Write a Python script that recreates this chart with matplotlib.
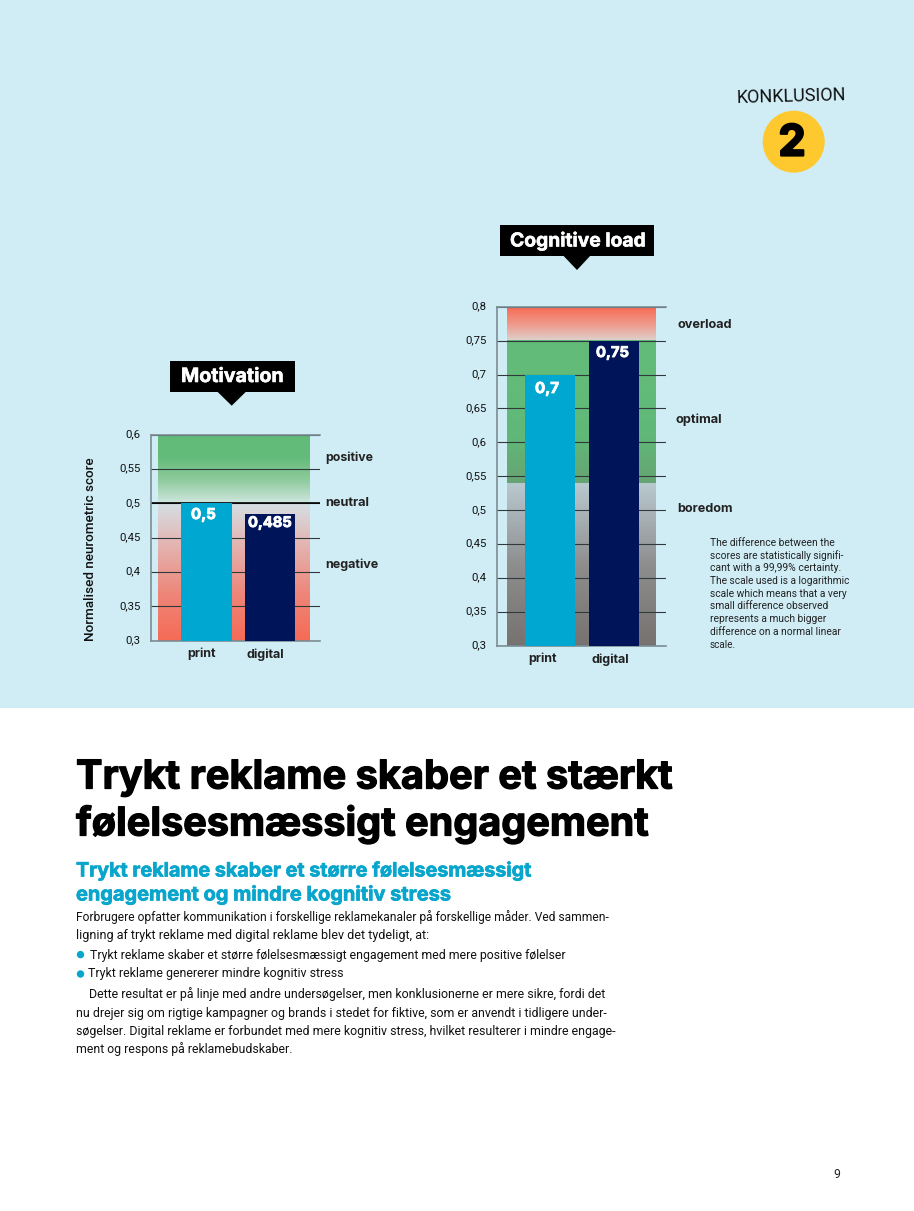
import matplotlib
matplotlib.use("Agg")
import matplotlib.pyplot as plt
import matplotlib.patheffects as pe
import numpy as np
from matplotlib.colors import LinearSegmentedColormap
from matplotlib.patches import Rectangle, Polygon, Circle
from matplotlib.transforms import ScaledTranslation

plt.rcParams['font.family'] = ['Roboto', 'DejaVu Sans']

W, H = 914, 1211

categories = ["print", "digital"]

motivation_values = [0.5, 0.485]
motivation_labels = ["0,5", "0,485"]
motivation_ticks = [0.3, 0.35, 0.4, 0.45, 0.5, 0.55, 0.6]
motivation_ticklabels = ["0,3", "0,35", "0,4", "0,45", "0,5", "0,55", "0,6"]

cognitive_values = [0.7, 0.75]
cognitive_labels = ["0,7", "0,75"]
cognitive_ticks = [0.3, 0.35, 0.4, 0.45, 0.5, 0.55, 0.6, 0.65, 0.7, 0.75, 0.8]
cognitive_ticklabels = ["0,3", "0,35", "0,4", "0,45", "0,5", "0,55", "0,6", "0,65", "0,7", "0,75", "0,8"]

note_lines = ["The difference between the", "scores are statistically signifi-",
              "cant with a 99,99% certainty.", "The scale used is a logarithmic",
              "scale which means that a very", "small difference observed",
              "represents a much bigger", "difference on a normal linear", "scale."]

BG = "#D0EDF6"
PRINT = "#00A8D1"
DIGITAL = "#001559"
GREY = "#7C8D94"
LINE = "#30393C"
TEAL = "#08A5CC"


def fit(x, y, t, right, size, **kw):
    # text from x to right: the size is scaled until the width fits
    txt = over.text(x, y, t, fontsize=size, va="center", **kw)
    w = txt.get_window_extent(fig.canvas.get_renderer()).width
    txt.set_fontsize(size * (right - x) / w)
    return txt


def make_axes(left, right, top, bottom, ylim, xlim, ticks, ticklabels):
    ax = fig.add_axes([left / W, 1 - bottom / H, (right - left) / W, (bottom - top) / H], zorder=2)
    ax.set_xlim(*xlim)
    ax.set_ylim(*ylim)
    ax.patch.set_alpha(0)
    for s in ["top", "right", "bottom"]:
        ax.spines[s].set_visible(False)
    ax.spines["left"].set_color(GREY)
    ax.spines["left"].set_linewidth(1.2)
    ax.set_xticks([])
    ax.set_yticks(ticks)
    ax.set_yticklabels(ticklabels, fontsize=8.2, color="#111111")
    ax.tick_params(axis="y", length=0, pad=7.5)
    # labels sit a bit above their lines in the original
    up = ScaledTranslation(0, 1.5 / 100, fig.dpi_scale_trans)
    for lab in ax.get_yticklabels():
        lab.set_transform(lab.get_transform() + up)
    ax.set_axisbelow(True)
    ax.grid(axis="y", color=LINE, lw=0.8)
    return ax


def band(ax, x0, x1, y0, y1, colors):
    # y0 is the bottom of the band, colors go bottom to top
    cmap = LinearSegmentedColormap.from_list("b", colors)
    grad = np.linspace(0, 1, 256).reshape(-1, 1)
    ax.imshow(grad, cmap=cmap, origin="lower", extent=[x0, x1, y0, y1],
              aspect="auto", zorder=0, interpolation="bilinear")


fig = plt.figure(figsize=(W / 100, H / 100), dpi=100, facecolor="white")

# background layer, and a layer on top for the page text, both in pixels
page = fig.add_axes([0, 0, 1, 1], zorder=0)
over = fig.add_axes([0, 0, 1, 1], zorder=5)
for a in [page, over]:
    a.set_xlim(0, W)
    a.set_ylim(H, 0)
    a.axis("off")
page.add_patch(Rectangle((0, 0), W, 707.5, color=BG, lw=0))

# Motivation
ax1 = make_axes(151, 320, 434.7, 640.7, (0.3, 0.6), (-0.874, 1.787),
                motivation_ticks, motivation_ticklabels)
band(ax1, -0.764, 1.614, 0.5, 0.6, ["#CFE6DF", "#8FCB9D", "#62BB78", "#62BB78"])
band(ax1, -0.764, 1.614, 0.3, 0.5, ["#F66B55", "#EE8578", "#E5B0AC", "#D5DFE5"])
ax1.axhline(0.5, color="black", lw=1.2, zorder=0.6)
for v in [0.3, 0.6]:
    ax1.axhline(v, color=GREY, lw=1.2, zorder=0.6, clip_on=False)
ax1.bar(np.arange(2), motivation_values, width=0.79, color=[PRINT, DIGITAL], zorder=1)

# Cognitive load
ax2 = make_axes(496.7, 666, 306.7, 646, (0.3, 0.8), (-0.833, 1.8125),
                cognitive_ticks, cognitive_ticklabels)
band(ax2, -0.672, 1.652, 0.75, 0.8, ["#DDD3CF", "#F0998A", "#F66B55"])
band(ax2, -0.672, 1.652, 0.54, 0.75, ["#67A473", "#60B878", "#62BB78", "#62BB78"])
band(ax2, -0.672, 1.652, 0.3, 0.54, ["#767270", "#8E8E8E", "#B9C9D0"])
for v in [0.3, 0.8]:
    ax2.axhline(v, color=GREY, lw=1.2, zorder=0.6, clip_on=False)
ax2.bar(np.arange(2), cognitive_values, width=0.786, color=[PRINT, DIGITAL], zorder=1)

# value labels on the bars
heavy = [pe.withStroke(linewidth=0.6, foreground="white")]
for x, right, y, t in zip([191, 248], [216, 292], [515, 523], motivation_labels):
    fit(x, y, t, right, 11, color="white", family="Inter", fontweight="bold", path_effects=heavy)
for x, right, y, t in zip([535, 596], [559, 629], [389, 353], cognitive_labels):
    fit(x, y, t, right, 11, color="white", family="Inter", fontweight="bold", path_effects=heavy)

# callouts
over.add_patch(Rectangle((170, 361), 125, 30.5, color="black", lw=0))
over.add_patch(Polygon([(216.7, 391), (246.7, 391), (231.7, 405.7)], color="black", lw=0))
fit(181, 377, "Motivation", 284, 14, color="white", family="Inter", fontweight="bold",
    path_effects=[pe.withStroke(linewidth=0.4, foreground="white")])
over.add_patch(Rectangle((500, 225), 154, 30.5, color="black", lw=0))
over.add_patch(Polygon([(562.7, 255), (591, 255), (577, 270)], color="black", lw=0))
fit(510, 241, "Cognitive load", 646, 14, color="white", family="Inter", fontweight="bold",
    path_effects=[pe.withStroke(linewidth=0.4, foreground="white")])

# conclusion badge
over.text(791.5, 97, "KONKLUSION", color="#111111", fontsize=13, rotation=1.5,
          ha="center", va="center", rotation_mode="anchor")
over.add_patch(Circle((793.7, 141.7), 31, color="#FDC92F", lw=0))
over.text(792, 144, "2", color="black", fontsize=31, fontweight="bold", family="Inter", ha="center", va="center",
          path_effects=[pe.withStroke(linewidth=1.6, foreground="black")])

# axis and side labels
over.text(91, 549, "Normalised neurometric score", rotation=90, fontsize=9.7, fontweight="medium",
          color="#111111", ha="center", va="center")
for x, y, t in zip([201.7, 265], [653.5, 654.5], categories):
    over.text(x, y, t, fontsize=9, fontweight="bold", family="Inter", color="#222222", ha="center", va="center")
for x, y, t in zip([542.7, 610], [658.5, 659.5], categories):
    over.text(x, y, t, fontsize=9, fontweight="bold", family="Inter", color="#222222", ha="center", va="center")
for x, y, t, right in [(325.7, 457.5, "positive", 374), (325.7, 503.5, "neutral", 370), (325.7, 565, "negative", 379),
                       (677, 325, "overload", 732), (676, 420, "optimal", 723), (677, 509, "boredom", 733)]:
    fit(x, y, t, right, 9.5, fontweight="bold", family="Inter", color="#222222")
for y, right, t in zip([543, 555.5, 568, 581, 594, 606, 619, 632, 645],
                       [835, 843, 841, 849, 847, 828, 827, 841, 736], note_lines):
    fit(710, y, t, right, 7.3, color="#222222")

# article text
thick = [pe.withStroke(linewidth=0.9, foreground="black")]
fit(76, 778, "Trykt reklame skaber et stærkt", 673, 30, fontweight="bold", family="Inter", color="black", path_effects=thick)
fit(76, 824, "følelsesmæssigt engagement", 649, 30, fontweight="bold", family="Inter", color="black", path_effects=thick)
thick_teal = [pe.withStroke(linewidth=0.5, foreground=TEAL)]
fit(76, 871, "Trykt reklame skaber et større følelsesmæssigt", 532, 15, fontweight="bold", family="Inter", color=TEAL, path_effects=thick_teal)
fit(76, 895, "engagement og mindre kognitiv stress", 451, 15, fontweight="bold", family="Inter", color=TEAL, path_effects=thick_teal)

body = [(76, 917, "Forbrugere opfatter kommunikation i forskellige reklamekanaler på forskellige måder. Ved sammen-", 611),
        (76, 935, "ligning af trykt reklame med digital reklame blev det tydeligt, at:", 425),
        (90, 955, "Trykt reklame skaber et større følelsesmæssigt engagement med mere positive følelser", 567),
        (88, 974, "Trykt reklame genererer mindre kognitiv stress", 345),
        (89, 994, "Dette resultat er på linje med andre undersøgelser, men konklusionerne er mere sikre, fordi det", 607),
        (76, 1013, "nu drejer sig om rigtige kampagner og brands i stedet for fiktive, som er anvendt i tidligere under-", 610),
        (76, 1031, "søgelser. Digital reklame er forbundet med mere kognitiv stress, hvilket resulterer i mindre engage-", 617),
        (76, 1049, "ment og respons på reklamebudskaber.", 293)]
for x, y, t, right in body:
    fit(x, y, t, right, 8.7, color="#111111")
over.add_patch(Circle((80.5, 954.6), 3.7, color=TEAL, lw=0))
over.add_patch(Circle((80.5, 974), 3.7, color=TEAL, lw=0))

over.text(836.5, 1175, "9", fontsize=8.7, color="#222222", ha="center", va="center")

fig.savefig("out.png", dpi=100)
